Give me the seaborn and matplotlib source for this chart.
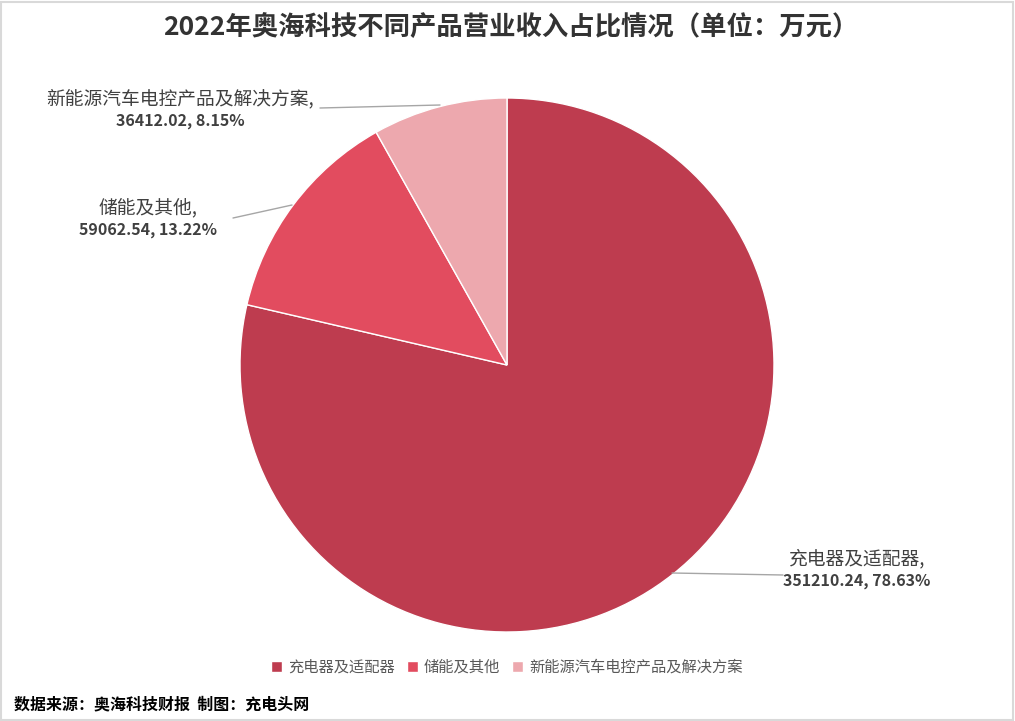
import matplotlib
matplotlib.use("Agg")
import matplotlib.pyplot as plt
import seaborn as sns
from matplotlib.patches import Rectangle
import numpy as np

categories = ["充电器及适配器", "储能及其他", "新能源汽车电控产品及解决方案"]
values = [351210.24, 59062.54, 36412.02]
percents = ["78.63%", "13.22%", "8.15%"]
colors = ["#BE3C4F", "#E24C5F", "#EDA8AE"]

sns.set_theme(style="white")
plt.rcParams['font.family'] = ['Noto Sans CJK SC', 'DejaVu Sans']

W, H = 1015, 721
fig = plt.figure(figsize=(W / 100, H / 100), dpi=100)
ax = fig.add_axes([0, 0, 1, 1])
ax.set_xlim(0, W)
ax.set_ylim(0, H)

cx, cy, r = 507, H - 365, 267
wedges, _ = ax.pie(values, colors=colors, startangle=90, counterclock=False,
                   center=(cx, cy), radius=r, frame=True,
                   wedgeprops=dict(edgecolor="white", linewidth=1))
ax.set_xlim(0, W)
ax.set_ylim(0, H)
ax.set_aspect("equal")
ax.axis("off")

def P(x, y):
    return (x, H - y)

txt_color = "#404040"
line_color = "#A6A6A6"
# label positions (pixel coords: text center, line start at text, line end at pie)
label_specs = [
    (857, 569, [(783, 575), (672, 573)]),
    (148, 218, [(233, 218), (292, 205)]),
    (180, 109, [(320, 108), (440, 105)]),
]
for (name, v, pct), (tx, ty, pts) in zip(zip(categories, values, percents), label_specs):
    ax.text(*P(tx, ty - 10), f"{name},", ha="center", va="center",
            fontsize=13.5, color=txt_color)
    ax.text(*P(tx, ty + 12), f"{v:.2f}, {pct}", ha="center", va="center",
            fontsize=11.5, color=txt_color, fontweight="bold")
    xs = [p[0] for p in pts]
    ys = [H - p[1] for p in pts]
    ax.plot(xs, ys, color=line_color, linewidth=1)

fig.text(511 / W, 1 - 28 / H, "2022年奥海科技不同产品营业收入占比情况（单位：万元）",
         ha="center", va="center", fontsize=19, fontweight="bold", color="#333333")

handles = [Rectangle((0, 0), 1, 1, facecolor=c) for c in colors]
fig.legend(handles, categories, loc="center", bbox_to_anchor=(507 / W, 1 - 667 / H),
           ncol=3, frameon=False, fontsize=11, handlelength=0.7, handleheight=0.7,
           handletextpad=0.4, columnspacing=0.8, labelcolor="#595959")

fig.text(14 / W, 1 - 704 / H, "数据来源：奥海科技财报  制图：充电头网", ha="left", va="center",
         fontsize=11.5, fontweight="bold", color="black")

fig.patches.append(Rectangle((0.5 / W, 1.5 / H), (W - 3) / W, (H - 3) / H,
                             transform=fig.transFigure, fill=False,
                             edgecolor="#D9D9D9", linewidth=1.5))

fig.savefig("out.png", dpi=100, facecolor="white")
